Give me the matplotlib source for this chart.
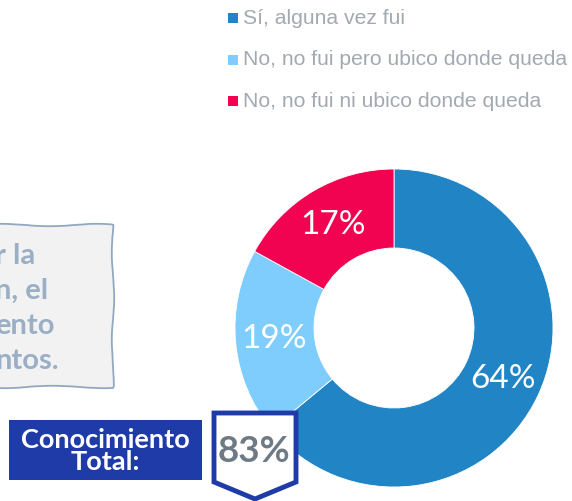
import matplotlib
matplotlib.use("Agg")
import matplotlib.pyplot as plt
from matplotlib.patches import Rectangle, Polygon

# data
labels = ["Sí, alguna vez fui", "No, no fui pero ubico donde queda", "No, no fui ni ubico donde queda"]
values = [64, 19, 17]
colors = ["#2185C5", "#7FCDFD", "#F20352"]
box_lines = ["r la", "n, el", "ento", "ntos."]
total_label = "Conocimiento\nTotal:"
total_value = "83%"

W, H = 572, 501
fig = plt.figure(figsize=(W / 100, H / 100), dpi=100)
ax = fig.add_axes([0, 0, 1, 1])


def py(y):
    # pixel row (from top) -> data y
    return H - y


# donut
wedges, texts, autotexts = ax.pie(
    values, colors=colors, center=(394, py(328)), radius=159,
    startangle=90, counterclock=False, frame=True,
    autopct=lambda p: f"{p:.0f}%", pctdistance=0.755,
    wedgeprops=dict(width=79, edgecolor="white", linewidth=0.6),
    textprops=dict(color="white", fontsize=24, family="Lato"),
)

# legend
for i, (lab, col) in enumerate(zip(labels, colors)):
    y = 18 + i * 41.5
    ax.add_patch(Rectangle((228, py(y + 5)), 10, 10, facecolor=col, edgecolor="none"))
    ax.text(243, py(y), lab, fontsize=15.2, color="#A3A9B0", va="center", ha="left",
            family="Liberation Sans")

# note box (cut off on the left)
note = Rectangle((-20, py(387)), 133, 162, facecolor="#F2F2F2", edgecolor="#93A8BE",
                 linewidth=1.3, zorder=2)
note.set_sketch_params(1.2, 120, 3)
ax.add_patch(note)
for i, line in enumerate(box_lines):
    ax.text(-5, py(256 + i * 35), line, fontsize=21, fontweight="bold", color="#9AAFC5",
            family="Lato", va="center", ha="left", zorder=3)

# total box
ax.add_patch(Rectangle((9, py(480)), 193, 60, facecolor="#1F3BA8", edgecolor="none", zorder=4))
ax.text(105.5, py(451), total_label, fontsize=19.5, fontweight="bold", color="white",
        family="Lato", ha="center", va="center", linespacing=0.95, zorder=5)

# badge
badge = Polygon([(214, py(413)), (296, py(413)), (296, py(482)), (255, py(499)), (214, py(482))],
                closed=True, facecolor="white", edgecolor="#1F3BA8", linewidth=3.5,
                joinstyle="miter", zorder=6)
ax.add_patch(badge)
ax.text(254, py(452), total_value, fontsize=26.5, fontweight="bold", color="#6E7A84",
        family="Lato", ha="center", va="center", zorder=7)

ax.set_xlim(0, W)
ax.set_ylim(0, H)
ax.set_aspect("auto")
ax.axis("off")

fig.savefig("out.png", dpi=100)
